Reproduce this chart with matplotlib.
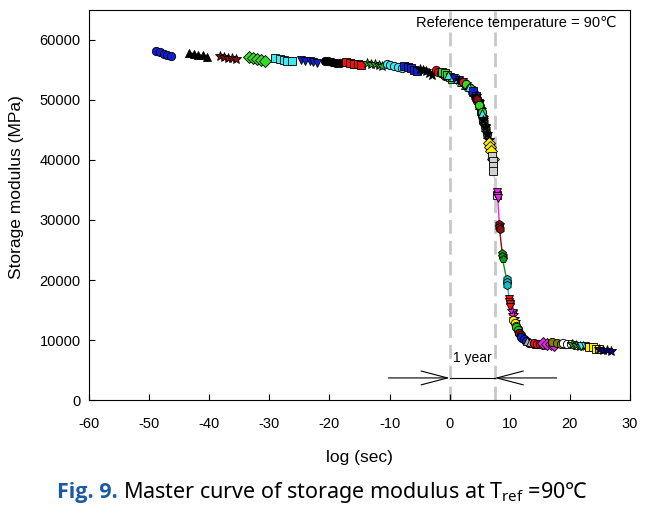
import matplotlib
matplotlib.use("Agg")
import matplotlib.pyplot as plt

# shifted isotherm segments (log sec, storage modulus MPa)
seg_x = [
    [-48.8, -48.2, -47.6, -47.0, -46.4],
    [-43.3, -42.6, -41.9, -41.1, -40.4],
    [-38.2, -37.5, -36.8, -36.2, -35.5],
    [-33.3, -32.7, -32.0, -31.4, -30.8],
    [-29.0, -28.3, -27.6, -27.0, -26.3],
    [-24.7, -24.0, -23.3, -22.7, -22.0],
    [-20.8, -20.2, -19.6, -18.9, -18.3],
    [-17.2, -16.6, -15.9, -15.3, -14.7],
    [-13.7, -13.1, -12.4, -11.8, -11.2],
    [-10.5, -9.9, -9.3, -8.6, -8.0],
    [-7.6, -7.0, -6.5, -6.0, -5.5],
    [-5.0, -4.5, -4.0, -3.5, -3.0],
    [-2.3, -1.9, -1.5, -1.1, -0.7],
    [-1.2, -0.8, -0.4, 0.0, 0.4],
    [-0.2, 0.5, 1.2, 1.9, 2.6],
    [0.8, 1.5, 2.2, 2.9, 3.5],
    [1.5, 2.2, 2.9, 3.5, 4.1],
    [2.2, 2.8, 3.4, 4.0, 4.6],
    [2.8, 3.4, 4.0, 4.5, 5.0],
    [3.3, 3.9, 4.4, 4.9, 5.3],
    [3.8, 4.3, 4.8, 5.2, 5.6],
    [4.3, 4.8, 5.2, 5.6, 5.9],
    [4.6, 5.0, 5.4, 5.7, 6.0],
    [4.9, 5.3, 5.6, 5.9, 6.2],
    [5.3, 5.6, 5.9, 6.2, 6.5],
    [5.6, 5.9, 6.2, 6.5, 6.7],
    [6.6, 6.7, 6.8, 7.2],
    [7.1, 7.15, 7.2, 7.25, 7.9],
    [7.85, 7.95, 8.0, 8.3],
    [8.2, 8.25, 8.3, 8.8],
    [8.7, 8.75, 8.8, 9.6],
    [9.5, 9.55, 9.6, 10.0],
    [9.9, 9.95, 10.0, 10.05, 10.5],
    [10.3, 10.5, 10.7, 10.9],
    [10.6, 10.8, 11.0, 11.3],
    [11.0, 11.3, 11.6, 11.9],
    [11.5, 11.8, 12.1, 12.5],
    [11.9, 12.3, 12.7, 13.2],
    [12.8, 13.3, 13.8, 14.3],
    [14.0, 14.5, 15.0, 15.6],
    [15.5, 16.2, 16.8, 17.3],
    [17.0, 17.8, 18.5, 19.2],
    [18.8, 19.5, 20.2, 20.8],
    [20.4, 21.0, 21.6, 22.2],
    [21.9, 22.5, 23.0, 23.4],
    [23.2, 23.8, 24.3, 24.8],
    [24.8, 25.5, 26.2, 26.9],
]
seg_y = [
    [58200, 58000, 57700, 57500, 57300],
    [57800, 57700, 57500, 57400, 57200],
    [57300, 57200, 57000, 56900, 56800],
    [57200, 57000, 56800, 56700, 56500],
    [57000, 56800, 56700, 56500, 56400],
    [56700, 56500, 56400, 56300, 56200],
    [56500, 56400, 56300, 56200, 56200],
    [56300, 56200, 56000, 55900, 55800],
    [56100, 56000, 55900, 55800, 55700],
    [56000, 55800, 55600, 55500, 55300],
    [55700, 55500, 55300, 55000, 54800],
    [55200, 55000, 54800, 54500, 54200],
    [54900, 54700, 54500, 54300, 54000],
    [54600, 54400, 54100, 53800, 53500],
    [54200, 53800, 53400, 53000, 52500],
    [53600, 53300, 52900, 52300, 51700],
    [53300, 52900, 52300, 51700, 50800],
    [53000, 52500, 51900, 51000, 49800],
    [52600, 52000, 51200, 50200, 48800],
    [52100, 51300, 50400, 49200, 47800],
    [51400, 50600, 49500, 48200, 46800],
    [50700, 49600, 48300, 46900, 45700],
    [50100, 48900, 47600, 46300, 45100],
    [49200, 47900, 46700, 45500, 44400],
    [47800, 46600, 45400, 44300, 43200],
    [46700, 45500, 44400, 43300, 42500],
    [42800, 42100, 41500, 40200],
    [40600, 39800, 39000, 38200, 34200],
    [34600, 34000, 33600, 28800],
    [29400, 28900, 28500, 24000],
    [24500, 24000, 23500, 19500],
    [20200, 19700, 19200, 16300],
    [16800, 16400, 16000, 15500, 14300],
    [14800, 14200, 13500, 13000],
    [13400, 12800, 12300, 11800],
    [12200, 11600, 11100, 10700],
    [11200, 10800, 10400, 10000],
    [10500, 10100, 9800, 9500],
    [9900, 9700, 9500, 9300],
    [9500, 9400, 9300, 9200],
    [9500, 9400, 9300, 9200],
    [9700, 9600, 9400, 9300],
    [9500, 9400, 9300, 9200],
    [9300, 9200, 9100, 9000],
    [9100, 9000, 8900, 8800],
    [8900, 8800, 8600, 8500],
    [8500, 8400, 8300, 8200],
]

# marker / colour for each segment
seg_style = [
    ('o', '#1020d0'), ('^', 'black'), ('*', '#8b1010'), ('D', '#33dd22'),
    ('s', '#40e8f0'), ('v', '#1020d0'), ('o', 'black'), ('s', '#ee1111'),
    ('*', '#22aa22'), ('o', '#40e8f0'), ('s', '#1020d0'), ('*', 'black'),
    ('o', '#ee1111'), ('s', '#33dd22'),
    ('^', '#40e8f0'), ('v', '#1020d0'), ('*', 'black'), ('o', '#ee1111'),
    ('o', '#33dd22'), ('^', '#40e8f0'), ('s', '#1020d0'), ('*', 'black'),
    ('h', '#8b1010'), ('o', '#33dd22'), ('^', '#40e8f0'), ('*', 'black'),
    ('D', '#ffee00'), ('s', '#d0d0d0'), ('v', '#ee22ee'), ('h', '#8b1010'),
    ('p', '#119911'), ('h', '#10c0c0'), ('v', '#ee1111'),
    ('*', '#ee22ee'), ('o', '#ffee00'), ('o', '#22cc22'), ('o', '#8b1010'),
    ('o', '#1020d0'), ('^', '#b0b0b0'), ('o', '#ee1111'), ('D', '#ee22ee'),
    ('o', '#808000'), ('o', 'white'), ('*', '#22aa22'), ('v', '#40e8f0'),
    ('s', '#ffee00'), ('*', '#000080'),
]

t_zero = 0.0
t_year = 7.5

plt.rcParams['font.family'] = ['Liberation Sans', 'DejaVu Sans']
plt.rcParams['axes.unicode_minus'] = False

fig = plt.figure(figsize=(6.59, 5.15), dpi=100)
ax = fig.add_axes([0.135, 0.223, 0.821, 0.758])

for xs, ys, (m, c) in zip(seg_x, seg_y, seg_style):
    ms = 7.5 if m == '*' else 6
    ax.plot(xs, ys, '-', color=c, lw=1, marker=m, ms=ms,
            mfc=c, mec='black', mew=0.6)

for xv in (t_zero, t_year):
    ax.axvline(xv, color='#c8c8c8', lw=2, ls=(0, (5, 2.5)), zorder=0)

# 1 year arrows
arr = dict(arrowstyle='->,head_length=1.9,head_width=0.5', color='black', lw=0.8,
           shrinkA=0, shrinkB=0)
ax.annotate('', xy=(t_zero, 3700), xytext=(-10.2, 3700), arrowprops=arr)
ax.annotate('', xy=(t_year, 3700), xytext=(17.8, 3700), arrowprops=arr)
ax.plot([t_zero, t_year], [3700, 3700], color='black', lw=0.8)
ax.text(3.75, 5800, '1 year', ha='center', va='bottom', fontsize=10)

ax.text(27.8, 62800, 'Reference temperature = 90℃', ha='right', va='center',
        fontsize=10.5)

ax.set_xlim(-60, 30)
ax.set_ylim(0, 65000)
ax.set_xticks(range(-60, 31, 10))
ax.set_yticks(range(0, 60001, 10000))
ax.tick_params(direction='in', length=4, labelsize=10.5)
ax.tick_params(axis='x', pad=12)
ax.tick_params(axis='y', pad=6)
ax.set_xlabel('log (sec)', fontsize=12.5, labelpad=14)
ax.set_ylabel('Storage modulus (MPa)', fontsize=12.5)
ax.yaxis.set_label_coords(-0.12, 0.545)

# caption
t1 = fig.text(0.086, 0.033, 'Fig. 9.', color='#1a5aa6', fontsize=15.5,
              fontweight='bold', family='Open Sans', va='baseline')
fig.canvas.draw()
bb = t1.get_window_extent().transformed(fig.transFigure.inverted())
fig.text(bb.x1 + 0.008, 0.033, r'Master curve of storage modulus at T$_{\mathregular{ref}}$ =90℃',
         color='black', fontsize=15.5, family='Noto Sans', va='baseline')

fig.savefig('out.png', dpi=100)
